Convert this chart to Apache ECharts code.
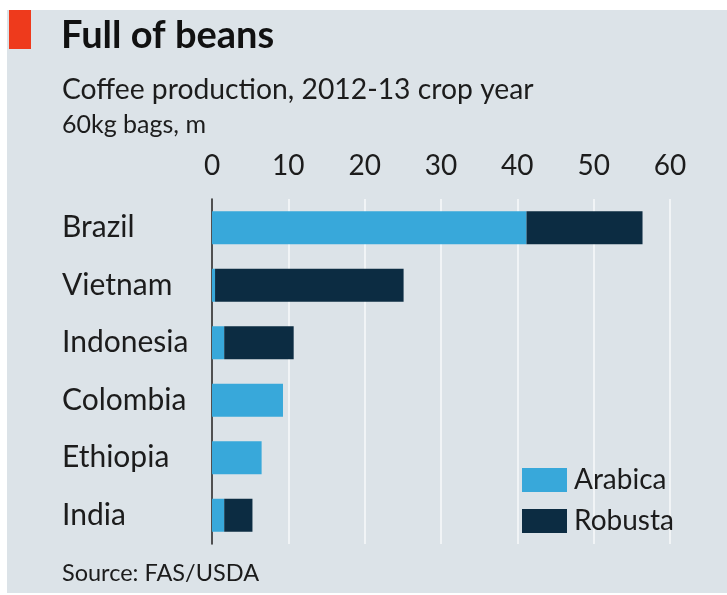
<!DOCTYPE html>
<html>
<head>
<meta charset="utf-8">
<script src="https://cdn.jsdelivr.net/npm/echarts@6/dist/echarts.min.js"></script>
<style>
  html, body { margin: 0; padding: 0; background: #ffffff; }
  #wrap { position: relative; width: 727px; height: 595px; background: #ffffff; }
  #bg { position: absolute; left: 7px; top: 10px; right: 0; bottom: 2px; background: #dce3e8; }
  #chart { position: absolute; left: 0; top: 0; width: 727px; height: 595px; }
</style>
</head>
<body>
<div id="wrap"><div id="bg"></div><div id="chart"></div></div>
<script>
const categories = ['Brazil', 'Vietnam', 'Indonesia', 'Colombia', 'Ethiopia', 'India'];
const arabica = [41.2, 0.4, 1.6, 9.3, 6.5, 1.6];
const robusta = [15.2, 24.7, 9.1, 0, 0, 3.7];
const seriesNames = ['Arabica', 'Robusta'];
const tickValues = [0, 10, 20, 30, 40, 50, 60];

const FONT = 'Lato';
const TXT = '#1c1c1c';
const chart = echarts.init(document.getElementById('chart'), null, { renderer: 'canvas' });
chart.setOption({
  backgroundColor: 'transparent',
  animation: false,
  textStyle: { fontFamily: FONT, color: TXT },
  title: [
    { text: 'Full of beans', left: 61, top: 17, padding: 0,
      textStyle: { fontFamily: FONT, fontWeight: 'bold', fontSize: 38, color: '#111' } },
    { text: 'Coffee production, 2012-13 crop year', left: 62, top: 76, padding: 0,
      textStyle: { fontFamily: FONT, fontWeight: 'normal', fontSize: 28.3, color: TXT } },
    { text: '60kg bags, m', left: 62, top: 112, padding: 0,
      textStyle: { fontFamily: FONT, fontWeight: 'normal', fontSize: 25, color: TXT } },
    { text: 'Source: FAS/USDA', left: 62, top: 561, padding: 0,
      textStyle: { fontFamily: FONT, fontWeight: 'normal', fontSize: 23.5, color: TXT } }
  ],
  graphic: [
    { type: 'rect', left: 9, top: 10, shape: { width: 22, height: 39 }, style: { fill: '#ee3a1c' } }
  ],
  legend: {
    orient: 'vertical', left: 522, top: 466, padding: 0,
    itemWidth: 45, itemHeight: 24, itemGap: 13, icon: 'rect',
    textStyle: { fontFamily: FONT, fontSize: 28, color: TXT, padding: [0, 0, 0, 2] },
    data: seriesNames
  },
  grid: { left: 212, right: 57, top: 199, bottom: 51, containLabel: false },
  xAxis: {
    type: 'value', position: 'top', min: 0, max: 60, interval: 10,
    axisLine: { show: false }, axisTick: { show: false },
    axisLabel: { fontFamily: FONT, fontSize: 28, color: TXT, margin: 19,
      formatter: v => tickValues.includes(v) ? String(v) : '' },
    splitLine: { show: true, lineStyle: { color: 'rgba(255,255,255,0.6)', width: 2 } }
  },
  yAxis: {
    type: 'category', inverse: true, data: categories,
    axisLine: { show: true, lineStyle: { color: '#1a1a1a', width: 1.5 } },
    axisTick: { show: false },
    axisLabel: { fontFamily: FONT, fontSize: 30, color: TXT, align: 'left', margin: 150 }
  },
  series: [
    { name: seriesNames[0], type: 'bar', stack: 'total', data: arabica, barWidth: 33,
      itemStyle: { color: '#38a8da' } },
    { name: seriesNames[1], type: 'bar', stack: 'total', data: robusta, barWidth: 33,
      itemStyle: { color: '#0c2c42' } }
  ]
});
</script>
</body>
</html>
